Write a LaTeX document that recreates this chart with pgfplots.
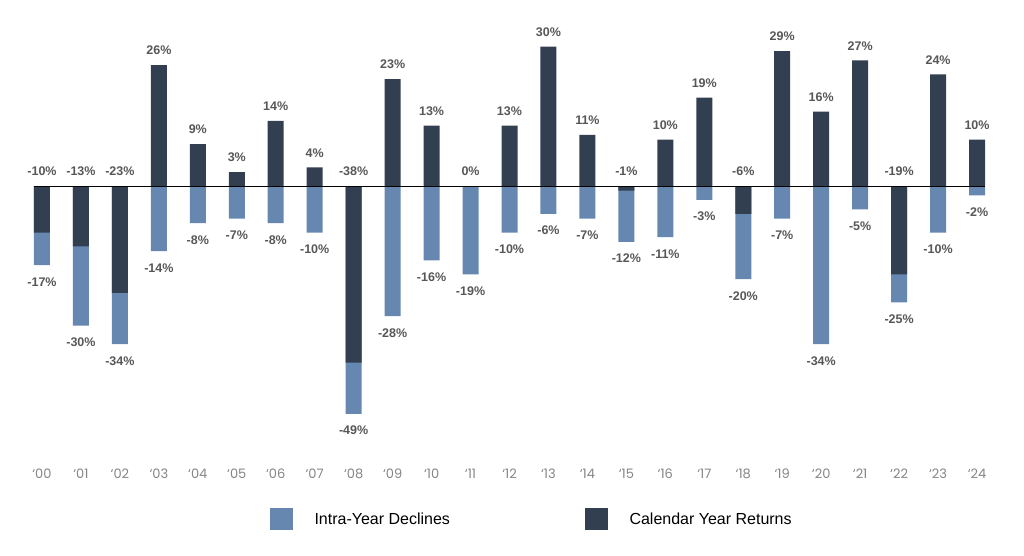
\documentclass[border=0pt]{standalone}
\usepackage{fontspec}
\usepackage{pgfplots}
\usepackage{pgfplotstable}
\pgfplotsset{compat=1.18}
\setmainfont{Liberation Sans}
\newfontfamily\tickfont{Poppins}
\definecolor{declcol}{HTML}{6587B0}
\definecolor{retcol}{HTML}{323F50}
\definecolor{lblcol}{HTML}{575757}
\definecolor{tickcol}{HTML}{858585}
\tikzset{label node/.style={font=\bfseries\fontsize{12.5bp}{14bp}\selectfont, text=lblcol}}

% x = year index, ret = calendar year return, decl = intra-year decline, ly = label height of return
\pgfplotstableread{
x ret decl ly
0 -10 -17 0
1 -13 -30 0
2 -23 -34 0
3 26 -14 26
4 9 -8 9
5 3 -7 3
6 14 -8 14
7 4 -10 4
8 -38 -49 0
9 23 -28 23
10 13 -16 13
11 0 -19 0
12 13 -10 13
13 30 -6 30
14 11 -7 11
15 -1 -12 0
16 10 -11 10
17 19 -3 19
18 -6 -20 0
19 29 -7 29
20 16 -34 16
21 27 -5 27
22 -19 -25 0
23 24 -10 24
24 10 -2 10
}\returns

\begin{document}
\begin{tikzpicture}
\useasboundingbox (0bp,0bp) rectangle (1024bp,556bp);
\begin{axis}[
  at={(34bp,114.25bp)}, anchor=south west,
  scale only axis, width=951bp, height=404.55bp,
  xmin=-0.205, xmax=24.205, ymin=-55, ymax=32,
  clip=false,
  axis line style={draw=none}, tick style={draw=none},
  ytick=\empty,
  xtick={0,...,24},
  xticklabels={‘00,‘01,‘02,‘03,‘04,‘05,‘06,‘07,‘08,‘09,‘10,‘11,‘12,‘13,‘14,‘15,‘16,‘17,‘18,‘19,‘20,‘21,‘22,‘23,‘24},
  xticklabel style={font=\tickfont\fontsize{13bp}{15bp}\selectfont, text=tickcol, anchor=base, yshift=-36.25bp},
  legend columns=2,
  legend image code/.code={\fill[#1] (0bp,-10.85bp) rectangle (22.5bp,11.65bp);},
  legend style={at={(0.2482,-0.1907)}, anchor=west, draw=none, fill=none,
    inner sep=0pt, outer sep=0pt, nodes={inner sep=0pt},
    font=\fontsize{16bp}{18bp}\selectfont,
    /tikz/every odd column/.append style={column sep=22bp},
    /tikz/every even column/.append style={column sep=135bp}},
]
\addplot[ybar, bar width=16bp, bar shift=0pt, fill=declcol, draw=none]
  table[x=x, y=decl] {\returns};
\addlegendentry{Intra-Year Declines}
\addplot[ybar, bar width=16bp, bar shift=0pt, fill=retcol, draw=none]
  table[x=x, y=ret] {\returns};
\addlegendentry{Calendar Year Returns}
\addplot[black, line width=1bp, forget plot] coordinates {(-0.205,0) (24.205,0)};
% decline labels below the light bars
\addplot[draw=none, mark=none, forget plot, point meta=explicit,
  nodes near coords={\pgfmathprintnumber[assume math mode=true]{\pgfplotspointmeta}\%},
  every node near coord/.append style={label node, anchor=base, yshift=-21bp}]
  table[x=x, y=decl, meta=decl] {\returns};
% return labels above the dark bars or above the zero line
\addplot[draw=none, mark=none, forget plot, point meta=explicit,
  nodes near coords={\pgfmathprintnumber[assume math mode=true]{\pgfplotspointmeta}\%},
  every node near coord/.append style={label node, anchor=base, yshift=10.3bp}]
  table[x=x, y=ly, meta=ret] {\returns};
\end{axis}
\end{tikzpicture}
\end{document}
